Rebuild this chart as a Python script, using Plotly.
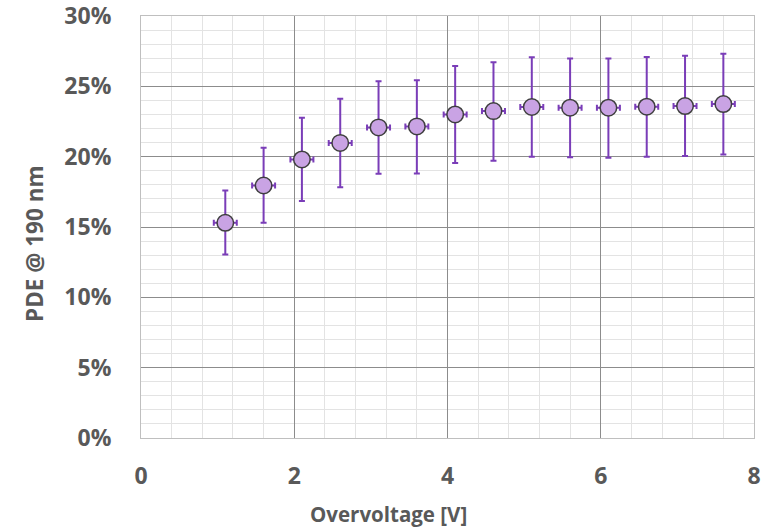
import plotly.graph_objects as go

overvoltage = [1.1, 1.6, 2.1, 2.6, 3.1, 3.6, 4.1, 4.6, 5.1, 5.6, 6.1, 6.6, 7.1, 7.6]
pde = [15.3, 17.95, 19.8, 20.98, 22.08, 22.15, 23.0, 23.24, 23.53, 23.48, 23.48, 23.55, 23.6, 23.74]
pde_err_plus = [2.3, 2.68, 2.96, 3.13, 3.29, 3.29, 3.44, 3.48, 3.53, 3.5, 3.5, 3.53, 3.57, 3.57]
pde_err_minus = [2.25, 2.65, 2.96, 3.15, 3.29, 3.34, 3.45, 3.53, 3.53, 3.53, 3.56, 3.55, 3.56, 3.58]
x_err = [0.15] * len(overvoltage)

x_ticks = [0, 2, 4, 6, 8]
y_ticks = [0, 5, 10, 15, 20, 25, 30]
x_title = "Overvoltage [V]"
y_title = "PDE @ 190 nm"

font_family = "Open Sans, Liberation Sans, sans-serif"
text_color = "#595959"

fig = go.Figure()
fig.add_trace(go.Scatter(
    x=overvoltage, y=pde, mode="markers",
    marker=dict(size=16.5, color="#C9A3E4", line=dict(color="#3F3F3F", width=1.5)),
    error_y=dict(type="data", symmetric=False, array=pde_err_plus, arrayminus=pde_err_minus,
                 color="#7A3DB8", thickness=2, width=3),
    error_x=dict(type="data", array=x_err, color="#7A3DB8", thickness=2, width=3),
    showlegend=False,
))

fig.update_layout(
    width=773, height=528,
    margin=dict(l=141, r=19, t=16, b=90, autoexpand=False),
    paper_bgcolor="white", plot_bgcolor="white",
    font=dict(family=font_family, color=text_color),
    xaxis=dict(
        range=[0, 8], tickvals=x_ticks, ticktext=[str(v) for v in x_ticks],
        showgrid=True, gridcolor="#8C8C8C", gridwidth=1,
        minor=dict(dtick=0.4, showgrid=True, gridcolor="#E3E3E3", gridwidth=1),
        zeroline=False, showline=True, linecolor="#BFBFBF", mirror=True,
        automargin=False,
        ticks="", ticklabelstandoff=17, ticklabeloverflow="allow",
        tickfont=dict(size=23, family=font_family, color=text_color, weight="bold"),
    ),
    yaxis=dict(
        range=[0, 30], tickvals=y_ticks, ticktext=[f"{v}%" for v in y_ticks],
        showgrid=True, gridcolor="#8C8C8C", gridwidth=1,
        minor=dict(dtick=1, showgrid=True, gridcolor="#E3E3E3", gridwidth=1),
        zeroline=False, showline=True, linecolor="#BFBFBF", mirror=True,
        automargin=False,
        ticks="", ticklabelstandoff=24, ticklabeloverflow="allow",
        tickfont=dict(size=23, family=font_family, color=text_color, weight="bold"),
    ),
    annotations=[
        dict(text=f"<b>{x_title}</b>", xref="paper", yref="paper",
             x=(388 - 141) / (754 - 141), y=-(514 - 438) / (438 - 16),
             xanchor="center", yanchor="middle", showarrow=False,
             font=dict(size=20.5, color=text_color, family=font_family)),
        dict(text=f"<b>{y_title}</b>", xref="paper", yref="paper",
             x=-(141 - 34) / (754 - 141), y=(438 - 244) / (438 - 16),
             xanchor="center", yanchor="middle", showarrow=False, textangle=-90,
             font=dict(size=22.5, color=text_color, family=font_family)),
    ],
)

fig.write_html("out.html")
